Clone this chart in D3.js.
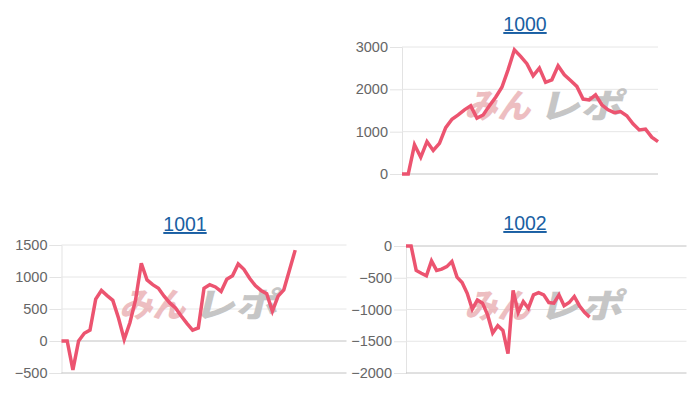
<!DOCTYPE html>
<html>
<head>
<meta charset="utf-8">
<script src="https://cdn.jsdelivr.net/npm/d3@7"></script>
<style>
  html, body { margin: 0; padding: 0; background: #ffffff; }
  svg { display: block; font-family: "Liberation Sans", Arial, sans-serif; }
</style>
</head>
<body>
<svg id="chart" width="700" height="400"></svg>
<script>
// ---- data ----
const titles = ["1000", "1001", "1002"];
const series1000 = [0,0,690,395,765,555,725,1095,1295,1395,1515,1610,1320,1395,1610,1815,2050,2465,2935,2780,2605,2320,2500,2165,2225,2555,2345,2210,2070,1770,1750,1870,1635,1515,1450,1475,1375,1185,1040,1060,870,765];
const series1001 = [0,0,-450,0,120,170,655,790,710,635,360,25,285,645,1215,955,880,825,700,595,515,390,275,170,205,825,880,845,775,965,1020,1205,1120,980,865,790,740,465,700,800,1110,1420];
const series1002 = [0,0,-385,-430,-470,-235,-385,-365,-325,-245,-490,-575,-745,-995,-850,-900,-1085,-1370,-1255,-1330,-1695,-700,-1045,-875,-980,-770,-735,-770,-890,-900,-770,-940,-890,-795,-940,-1045,-1120];
const ticks1000 = [0, 1000, 2000, 3000];
const ticks1001 = [-500, 0, 500, 1000, 1500];
const ticks1002 = [-2000, -1500, -1000, -500, 0];
const xSlots = [41, 50, 55];           // number of x steps on each panel's axis
const watermarkA = "みん";
const watermarkB = "レポ";

// ---- layout (styles / positions) ----
const panels = [
  { title: titles[0], data: series1000, ticks: ticks1000, slots: xSlots[0],
    x0: 402, x1: 658, yTop: 47, yBot: 174, titleX: 525, titleY: 31, wmX: 538, wmY: 103 },
  { title: titles[1], data: series1001, ticks: ticks1001, slots: xSlots[1],
    x0: 61.5, x1: 346.5, yTop: 245, yBot: 373, titleX: 185, titleY: 231, wmX: 193, wmY: 302 },
  { title: titles[2], data: series1002, ticks: ticks1002, slots: xSlots[2],
    x0: 406, x1: 686.5, yTop: 246, yBot: 373, titleX: 525, titleY: 230, wmX: 538, wmY: 303 }
];

const svg = d3.select("#chart");
const lineColor = "#ec5470";

panels.forEach(p => {
  const g = svg.append("g");
  const x = d3.scaleLinear().domain([0, p.slots]).range([p.x0, p.x1]);
  const yMin = d3.min(p.ticks), yMax = d3.max(p.ticks);
  const y = d3.scaleLinear().domain([yMin, yMax]).range([p.yBot, p.yTop]);

  // title (link style)
  g.append("text")
    .attr("x", p.titleX).attr("y", p.titleY)
    .attr("text-anchor", "middle")
    .attr("font-size", 19.5)
    .attr("fill", "#1a5fa3")
    .attr("text-decoration", "underline")
    .text(p.title);

  // y axis with tick marks
  const axis = d3.axisLeft(y).tickValues(p.ticks).tickSize(12).tickPadding(2)
    .tickFormat(d3.format("d"));
  const ag = g.append("g").attr("transform", `translate(${p.x0},0)`).call(axis);
  ag.select(".domain").attr("stroke", "#e3e3e3");
  ag.selectAll(".tick line").attr("stroke", "#e3e3e3");
  ag.selectAll(".tick text")
    .attr("font-size", 14.5)
    .attr("fill", "#666")
    .attr("font-family", "Liberation Sans, Arial, sans-serif");

  // horizontal grid lines
  g.append("g").selectAll("line")
    .data(p.ticks)
    .join("line")
    .attr("x1", p.x0).attr("x2", p.x1)
    .attr("y1", d => y(d)).attr("y2", d => y(d))
    .attr("stroke", d => (d === 0 || d === yMin) ? "#c2c2c2" : "#e6e6e6")
    .attr("stroke-width", 1);

  // watermark
  const wm = g.append("g").attr("transform", `translate(${p.wmX},${p.wmY}) skewX(-14)`);
  wm.append("text")
    .attr("x", -4).attr("y", 0)
    .attr("text-anchor", "end")
    .attr("dominant-baseline", "central")
    .attr("font-family", "Noto Sans CJK JP")
    .attr("font-weight", 900)
    .attr("font-size", 34)
    .attr("textLength", 66)
    .attr("lengthAdjust", "spacingAndGlyphs")
    .attr("fill", "#e8a9ad")
    .attr("opacity", 0.75)
    .text(watermarkA);
  wm.append("text")
    .attr("x", 4).attr("y", 0)
    .attr("text-anchor", "start")
    .attr("dominant-baseline", "central")
    .attr("font-family", "Noto Sans CJK JP")
    .attr("font-weight", 900)
    .attr("font-size", 34)
    .attr("textLength", 84)
    .attr("lengthAdjust", "spacingAndGlyphs")
    .attr("fill", "#b9b9b9")
    .attr("opacity", 0.8)
    .text(watermarkB);

  // data line
  const line = d3.line().x((d, i) => x(i)).y(d => y(d));
  g.append("path")
    .datum(p.data)
    .attr("d", line)
    .attr("fill", "none")
    .attr("stroke", lineColor)
    .attr("stroke-width", 3.5)
    .attr("stroke-linejoin", "miter");
});
</script>
</body>
</html>
